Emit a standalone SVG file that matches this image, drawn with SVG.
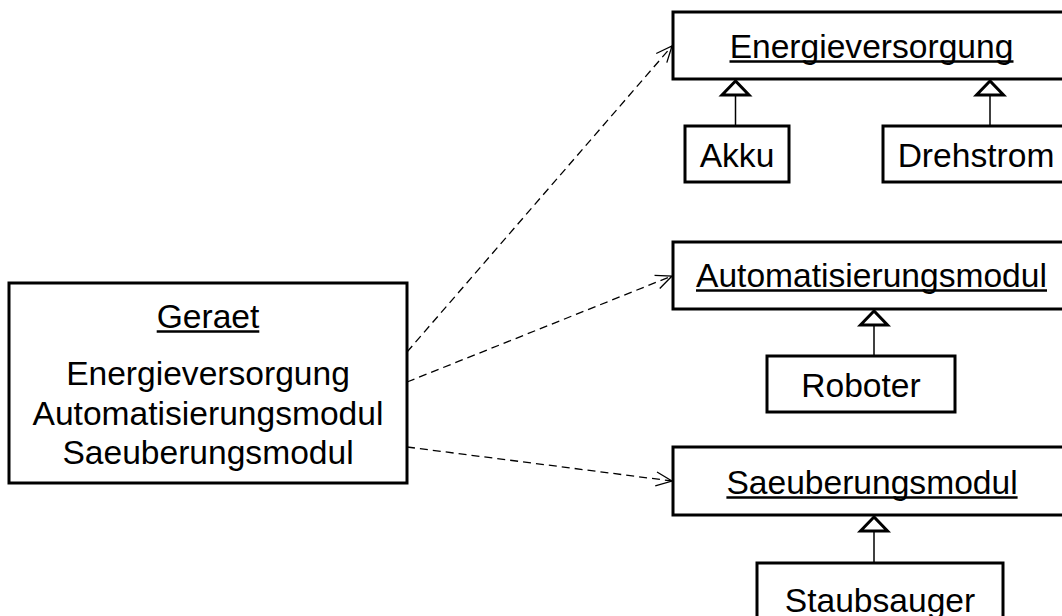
<svg xmlns="http://www.w3.org/2000/svg" width="1062" height="616" viewBox="0 0 1062 616">
<style>
.box{fill:#fff;stroke:#000;stroke-width:3}
.t{font-family:"Liberation Sans",Arial,sans-serif;font-size:33.6px;fill:#000;text-anchor:middle}
.ul{stroke:#000;stroke-width:2.4}
.dep{fill:none;stroke:#000;stroke-width:1.3;stroke-dasharray:8,5}
.gen{fill:none;stroke:#000;stroke-width:1.5}
.tri{fill:#fff;stroke:#000;stroke-width:3;stroke-linejoin:miter}
</style>
<defs>
<marker id="open" markerWidth="20" markerHeight="16" refX="17" refY="8" orient="auto" markerUnits="userSpaceOnUse">
<polyline points="1,1 17,8 1,15" fill="none" stroke="#000" stroke-width="1.3"/>
</marker>
</defs>
<rect width="1062" height="616" fill="#fff"/>
<g id="connectors">
<line class="dep" x1="407" y1="352" x2="672" y2="46" marker-end="url(#open)"/>
<line class="dep" x1="407" y1="382" x2="672" y2="276" marker-end="url(#open)"/>
<line class="dep" x1="407" y1="447" x2="672" y2="481" marker-end="url(#open)"/>
<line class="gen" x1="735.5" y1="95" x2="735.5" y2="126"/>
<polygon class="tri" points="735.5,81 722,95 749,95"/>
<line class="gen" x1="990" y1="95" x2="990" y2="126"/>
<polygon class="tri" points="990,81 976.5,95 1003.5,95"/>
<line class="gen" x1="874" y1="326" x2="874" y2="356"/>
<polygon class="tri" points="874,311 860.5,325 887.5,325"/>
<line class="gen" x1="874" y1="531" x2="874" y2="563"/>
<polygon class="tri" points="874,517 860.5,531 887.5,531"/>
</g>
<g id="geraet">
<rect class="box" x="9" y="283" width="398" height="200"/>
<text class="t" x="208" y="328">Geraet</text>
<line class="ul" x1="156.7" y1="331.5" x2="259.3" y2="331.5"/>
<text class="t" x="208" y="385">Energieversorgung</text>
<text class="t" x="208" y="425">Automatisierungsmodul</text>
<text class="t" x="208" y="464">Saeuberungsmodul</text>
</g>
<g id="energieversorgung">
<rect class="box" x="673" y="12" width="397" height="67"/>
<text class="t" x="871.5" y="58">Energieversorgung</text>
<line class="ul" x1="729.5" y1="61.5" x2="1013.5" y2="61.5"/>
</g>
<g id="akku">
<rect class="box" x="685" y="126" width="104" height="56"/>
<text class="t" x="737" y="167">Akku</text>
</g>
<g id="drehstrom">
<rect class="box" x="883" y="126" width="186" height="56"/>
<text class="t" x="976" y="167">Drehstrom</text>
</g>
<g id="automatisierungsmodul">
<rect class="box" x="673" y="242" width="397" height="67"/>
<text class="t" x="871.5" y="287">Automatisierungsmodul</text>
<line class="ul" x1="696" y1="290.5" x2="1047" y2="290.5"/>
</g>
<g id="roboter">
<rect class="box" x="767" y="356" width="188" height="56"/>
<text class="t" x="861" y="397">Roboter</text>
</g>
<g id="saeuberungsmodul">
<rect class="box" x="673" y="447" width="397" height="68"/>
<text class="t" x="872" y="494">Saeuberungsmodul</text>
<line class="ul" x1="726.4" y1="497.5" x2="1017.6" y2="497.5"/>
</g>
<g id="staubsauger">
<rect class="box" x="757" y="563" width="246" height="70"/>
<text class="t" x="880" y="612">Staubsauger</text>
</g>
</svg>
